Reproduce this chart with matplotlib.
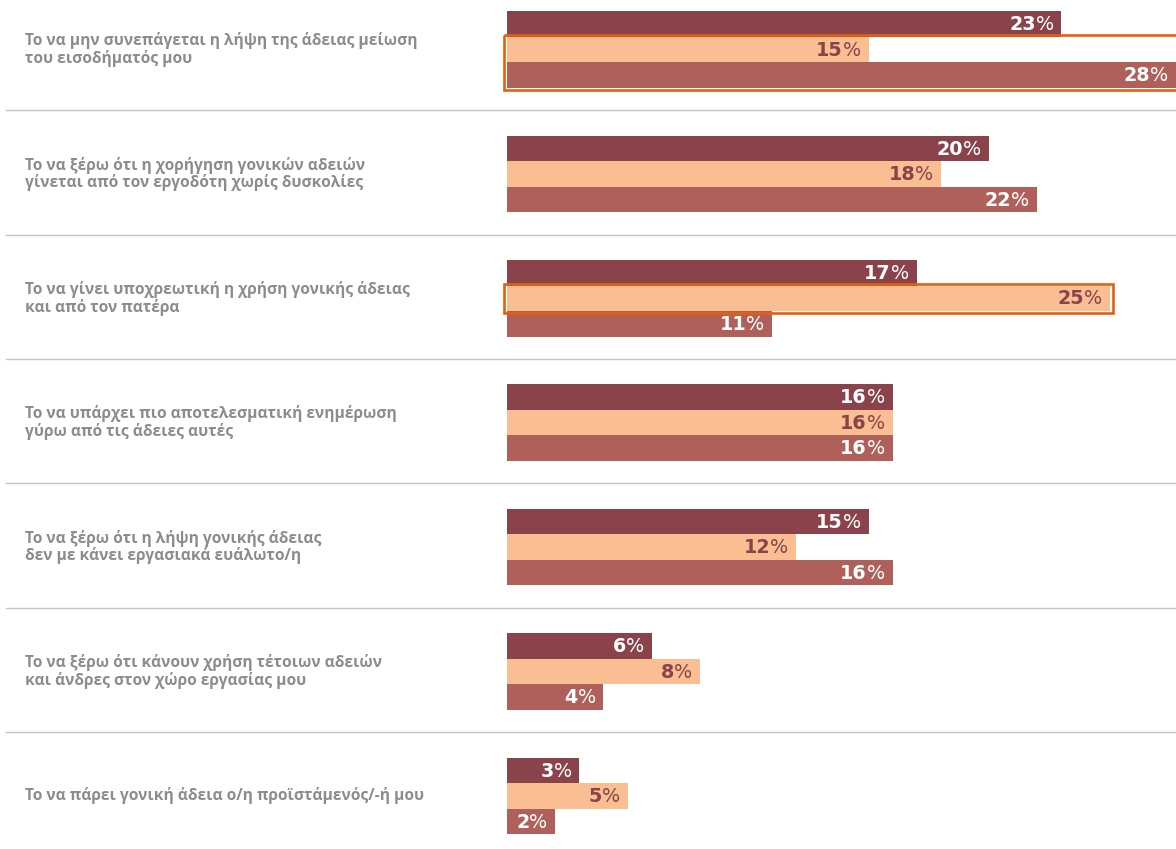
import matplotlib
matplotlib.use('Agg')
import matplotlib.pyplot as plt
from matplotlib.patches import Rectangle
from matplotlib.transforms import blended_transform_factory
import numpy as np

# statements (line breaks as they appear next to the bars)
labels = [
	'Το να μην συνεπάγεται η λήψη της άδειας μείωση\nτου εισοδήματός μου',
	'Το να ξέρω ότι η χορήγηση γονικών αδειών\nγίνεται από τον εργοδότη χωρίς δυσκολίες',
	'Το να γίνει υποχρεωτική η χρήση γονικής άδειας\nκαι από τον πατέρα',
	'Το να υπάρχει πιο αποτελεσματική ενημέρωση\nγύρω από τις άδειες αυτές',
	'Το να ξέρω ότι η λήψη γονικής άδειας\nδεν με κάνει εργασιακά ευάλωτο/η',
	'Το να ξέρω ότι κάνουν χρήση τέτοιων αδειών\nκαι άνδρες στον χώρο εργασίας μου',
	'Το να πάρει γονική άδεια ο/η προϊστάμενός/-ή μου',
]
series_a = [23, 20, 17, 16, 15, 6, 3]
series_b = [15, 18, 25, 16, 12, 8, 5]
series_c = [28, 22, 11, 16, 16, 4, 2]
# (group, first bar, last bar) outlined in orange
highlights = [(0, 1, 2), (2, 1, 1)]

colors = ['#8a434b', '#f9be91', '#b0605a']
text_colors = ['white', '#8a434b', 'white']
label_gray = '#8c8c8c'
box_color = '#e3600e'

W, H, DPI = 1176, 849, 100
fig = plt.figure(figsize=(W / DPI, H / DPI), dpi=DPI)
ax = fig.add_axes([0, 0, 1, 1])

px_per_unit = 24.1
x0_px = 507
xmax = (W - x0_px) / px_per_unit
ax.set_xlim(-x0_px / px_per_unit, xmax)
grp_px = 124.4
top_px = 49.5
ax.set_ylim((H - top_px) / grp_px, -top_px / grp_px)
ax.axis('off')

n = len(labels)
y = np.arange(n)
bh = 25.5 / grp_px
offsets = [-bh, 0, bh]
series = [series_a, series_b, series_c]

for k, vals in enumerate(series):
	ax.barh(y + offsets[k], vals, height=bh, color=colors[k], zorder=2)

# separators between groups
for i in range(n - 1):
	ax.axhline(i + 0.5 - 1.5 / grp_px, xmin=6 / W, xmax=1, color='#c4c4c4', lw=1.0, zorder=1)

# statement labels
tr = blended_transform_factory(fig.transFigure, ax.transData)
for i, lab in enumerate(labels):
	ax.text(25 / W, i, lab, transform=tr, ha='left', va='center',
			fontsize=11.2, fontweight='bold', color=label_gray,
			family='Open Sans', linespacing=1.05)

# value labels: bold number + regular percent sign
fig.canvas.draw()
renderer = fig.canvas.get_renderer()
pad = 5.5
fs = 13.8
for k, vals in enumerate(series):
	for i, v in enumerate(vals):
		yy = i + offsets[k]
		xv = min(v, xmax)
		pct = ax.annotate('%', (xv, yy), xytext=(-pad, -0.5), textcoords='offset points',
						  ha='right', va='center', fontsize=fs, color=text_colors[k],
						  family='DejaVu Sans', fontweight='normal', zorder=4)
		w = pct.get_window_extent(renderer).width * 72 / DPI
		ax.annotate(f'{v}', (xv, yy), xytext=(-pad - w, -0.5), textcoords='offset points',
					ha='right', va='center', fontsize=fs, color=text_colors[k],
					family='DejaVu Sans', fontweight='bold', zorder=4)

# orange outline boxes
for g, b0, b1 in highlights:
	vmax = max(series[k][g] for k in range(b0, b1 + 1))
	ytop = g + offsets[b0] - bh / 2 - 2 / grp_px
	ybot = g + offsets[b1] + bh / 2 + 2 / grp_px
	xl = -3 / px_per_unit
	xr = vmax + 3 / px_per_unit
	ax.add_patch(Rectangle((xl, ytop), xr - xl, ybot - ytop, fill=False,
						   edgecolor=box_color, lw=1.9, zorder=3))

fig.savefig('out.png', dpi=DPI)
plt.close(fig)
